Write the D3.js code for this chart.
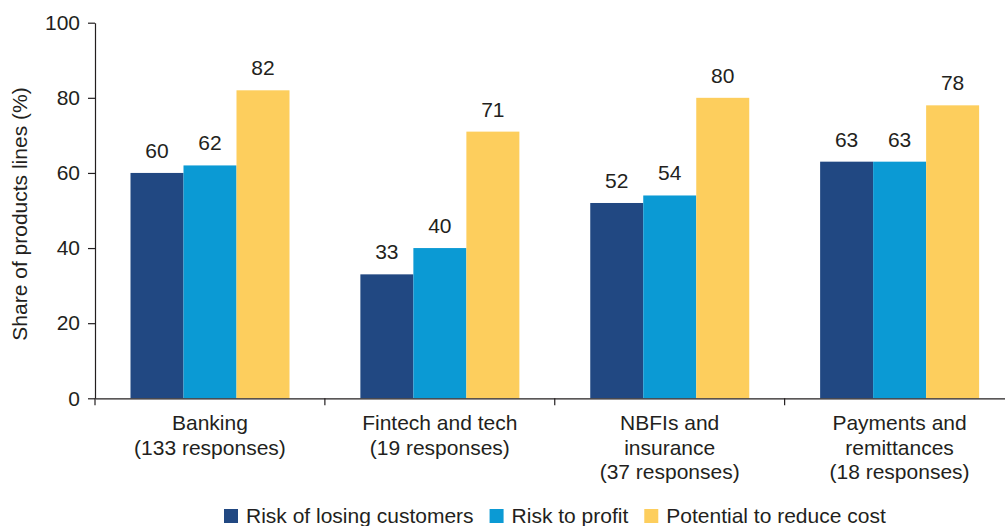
<!DOCTYPE html>
<html>
<head>
<meta charset="utf-8">
<script src="https://cdn.jsdelivr.net/npm/d3@7"></script>
<style>
  html, body { margin: 0; padding: 0; background: #fff; }
  svg { display: block; font-family: "Liberation Sans", Arial, Helvetica, sans-serif; }
</style>
</head>
<body>
<svg id="chart" width="1005" height="526"></svg>
<script>
const categories = ["Banking", "Fintech and tech", "NBFIs and insurance", "Payments and remittances"];
const categoryLines = [
  ["Banking", "(133 responses)"],
  ["Fintech and tech", "(19 responses)"],
  ["NBFIs and", "insurance", "(37 responses)"],
  ["Payments and", "remittances", "(18 responses)"]
];
const seriesNames = ["Risk of losing customers", "Risk to profit", "Potential to reduce cost"];
const riskLosingCustomers = [60, 33, 52, 63];
const riskToProfit = [62, 40, 54, 63];
const reduceCost = [82, 71, 80, 78];
const yTicks = [0, 20, 40, 60, 80, 100];
const yTitle = "Share of products lines (%)";

const seriesValues = [riskLosingCustomers, riskToProfit, reduceCost];
const colors = ["#214882", "#0b9ad4", "#fdce5d"];
const textColor = "#231f20";
const fontSize = 21;

const svg = d3.select("#chart");

const y = d3.scaleLinear().domain([0, 100]).range([398.3, 22.7]);
const x0 = d3.scaleBand().domain(categories).range([95, 1014.5]).padding(0);
const x1 = d3.scaleBand().domain(seriesNames).range([35.5, 194.5]).padding(0);

// bars
const groups = svg.append("g").selectAll("g")
  .data(categories)
  .join("g")
  .attr("transform", d => `translate(${x0(d)},0)`);

groups.selectAll("rect")
  .data((d, i) => seriesNames.map((s, j) => ({ s, v: seriesValues[j][i], j })))
  .join("rect")
  .attr("x", d => x1(d.s))
  .attr("width", x1.bandwidth())
  .attr("y", d => y(d.v))
  .attr("height", d => y(0) - y(d.v))
  .attr("fill", d => colors[d.j]);

groups.selectAll("text.val")
  .data((d, i) => seriesNames.map((s, j) => ({ s, v: seriesValues[j][i], j })))
  .join("text")
  .attr("class", "val")
  .attr("x", d => x1(d.s) + x1.bandwidth() / 2)
  .attr("y", d => y(d.v) - 15)
  .attr("text-anchor", "middle")
  .attr("font-size", fontSize)
  .attr("fill", textColor)
  .text(d => d.v);

// y axis
const yAxis = svg.append("g")
  .attr("transform", "translate(95,0)")
  .call(d3.axisLeft(y).tickValues(yTicks).tickSize(7).tickPadding(8).tickSizeOuter(0));
yAxis.select(".domain").attr("stroke", textColor).attr("stroke-width", 1.2);
yAxis.selectAll(".tick line").attr("stroke", textColor).attr("stroke-width", 1.2);
yAxis.selectAll(".tick text")
  .attr("font-size", fontSize)
  .attr("font-family", "Liberation Sans, Arial, sans-serif")
  .attr("fill", textColor);

// x axis
const xAxis = svg.append("g")
  .attr("transform", `translate(0,${y(0)})`)
  .call(d3.axisBottom(x0).tickValues([]).tickSizeOuter(0));
xAxis.select(".domain").attr("stroke", textColor).attr("stroke-width", 1.2);
// band boundary ticks
xAxis.selectAll("line.bt")
  .data(categories)
  .join("line")
  .attr("class", "bt")
  .attr("x1", d => x0(d)).attr("x2", d => x0(d))
  .attr("y1", 0).attr("y2", 7)
  .attr("stroke", textColor).attr("stroke-width", 1.2);

// category labels
const catG = svg.append("g").selectAll("text")
  .data(categories)
  .join("text")
  .attr("text-anchor", "middle")
  .attr("font-size", fontSize)
  .attr("fill", textColor)
  .attr("x", d => x0(d) + x0.bandwidth() / 2)
  .attr("y", 430);
catG.each(function(d, i) {
  const t = d3.select(this);
  categoryLines[i].forEach((line, k) => {
    t.append("tspan")
      .attr("x", x0(d) + x0.bandwidth() / 2)
      .attr("y", 430 + k * 24.5)
      .text(line);
  });
});

// y title
svg.append("text")
  .attr("transform", `translate(27,214) rotate(-90)`)
  .attr("text-anchor", "middle")
  .attr("font-size", fontSize)
  .attr("fill", textColor)
  .text(yTitle);

// legend
const legend = svg.append("g").attr("transform", "translate(224,0)");
let lx = 0;
seriesNames.forEach((s, j) => {
  legend.append("rect")
    .attr("x", lx).attr("y", 509)
    .attr("width", 14).attr("height", 14)
    .attr("fill", colors[j]);
  const t = legend.append("text")
    .attr("x", lx + 22).attr("y", 522.5)
    .attr("font-size", fontSize)
    .attr("fill", textColor)
    .text(s);
  lx += 22 + t.node().getComputedTextLength() + 16;
});
</script>
</body>
</html>
